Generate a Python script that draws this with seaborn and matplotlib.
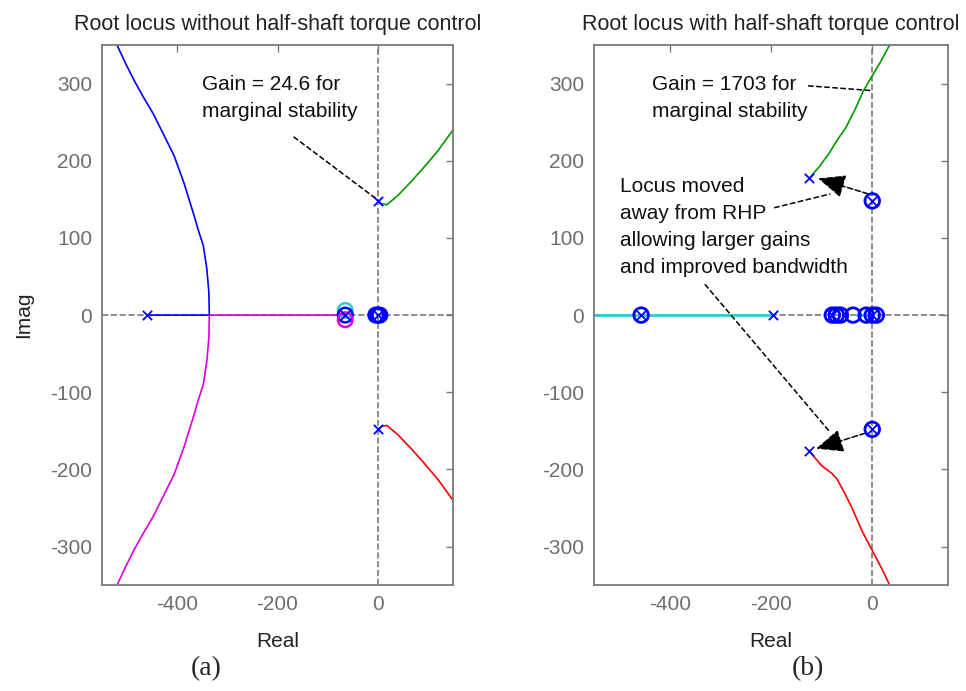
import matplotlib
matplotlib.use("Agg")
import matplotlib.pyplot as plt
import seaborn as sns
import numpy as np
import pandas as pd

# ---- left: without half-shaft torque control ----
a_blue_x = [-460, -336, -337, -341, -348, -358, -366, -386, -406, -428, -448, -468, -486, -503, -518, -524]
a_blue_y = [0, 0, 30, 60, 90, 110, 128, 170, 206, 235, 261, 283, 304, 326, 347, 355]
a_mag_x = [-65, -336, -337, -341, -348, -358, -366, -386, -406, -428, -448, -468, -486, -503, -518, -524]
a_mag_y = [0, 0, -30, -60, -90, -110, -128, -170, -206, -235, -261, -283, -304, -326, -347, -355]
a_green_x = [0, 8, 18, 40, 65, 90, 120, 150, 155]
a_green_y = [148, 144, 143, 155, 172, 190, 213, 240, 244]
a_red_x = [0, 8, 18, 40, 65, 90, 120, 150, 155]
a_red_y = [-148, -144, -143, -155, -172, -190, -213, -240, -244]
a_pole_x = [-460, 0, 0, -65, 0]
a_pole_y = [0, 148, -148, 0, 0]
a_zero_x = [-65, -65, -65, -4, 0, 4]
a_zero_y = [6, 0, -6, 0, 0, 0]
a_zero_c = ["#33cccc", "blue", "#dd00dd", "blue", "blue", "blue"]

# ---- right: with half-shaft torque control ----
b_cyan_x = [-560, -196]
b_cyan_y = [0, 0]
b_cyan2_x = [-30, -5]
b_cyan2_y = [0, 0]
b_green_x = [-125, -105, -85, -68, -53, -35, -18, 0, 18, 36]
b_green_y = [177, 192, 210, 228, 242, 265, 290, 310, 330, 352]
b_red_x = [-125, -100, -80, -70, -55, -40, -20, 0, 20, 36]
b_red_y = [-176, -195, -205, -212, -230, -250, -280, -305, -330, -352]
b_pole_x = [-196, -125, -125, 0, 0, -79, 0, -457]
b_pole_y = [0, 177, -176, 148, -148, 0, 0, 0]
b_zero_x = [-457, 0, 0, -79, -71, -63, -38, -12, 0, 8]
b_zero_y = [0, 148, -148, 0, 0, 0, 0, 0, 0, 0]

xticks = [-400, -200, 0]
yticks = [-300, -200, -100, 0, 100, 200, 300]

sns.set_theme(style="white")
plt.rcParams["font.family"] = ["Liberation Sans", "DejaVu Sans"]
plt.rcParams["axes.unicode_minus"] = False

fig = plt.figure(figsize=(9.66, 6.91), dpi=100)
ax1 = fig.add_axes([0.1056, 0.153, 0.3634, 0.782])
ax2 = fig.add_axes([0.615, 0.153, 0.3665, 0.782])

grey = "#7a7a7a"
tickc = "#6e6e6e"


def locus(ax, xs, ys, color, lw=1.2):
    df = pd.DataFrame({"x": xs, "y": ys})
    sns.lineplot(data=df, x="x", y="y", sort=False, color=color, lw=lw, ax=ax)


def style(ax, title, ylabel):
    ax.axvline(0, color=grey, ls="--", lw=1.2, zorder=0)
    ax.axhline(0, color=grey, ls="--", lw=1.2, zorder=0)
    ax.set_xlim(-550, 150)
    ax.set_ylim(-350, 350)
    ax.set_xticks(xticks)
    ax.set_yticks(yticks)
    ax.tick_params(direction="in", top=True, right=True, length=5, width=1,
                   color=grey, labelcolor=tickc, labelsize=15, pad=7)
    for s in ax.spines.values():
        s.set_color(grey)
        s.set_linewidth(1.3)
    ax.set_title(title, fontsize=15.5, color="#222222", pad=11)
    ax.set_xlabel("Real", fontsize=15, color="#222222", labelpad=13)
    ax.set_ylabel(ylabel, fontsize=15, color="#222222", labelpad=12)


# left panel
locus(ax1, a_blue_x, a_blue_y, "blue")
locus(ax1, a_mag_x, a_mag_y, "#dd00dd")
locus(ax1, a_green_x, a_green_y, "#009900")
locus(ax1, a_red_x, a_red_y, "red")
sns.scatterplot(x=a_zero_x, y=a_zero_y, marker="o", s=110, facecolor="none",
                edgecolor=a_zero_c, linewidth=1.8, ax=ax1, zorder=4)
sns.scatterplot(x=a_pole_x, y=a_pole_y, marker="x", s=45, color="blue",
                linewidth=1.3, ax=ax1, zorder=5)
ax1.text(-350, 281, "Gain = 24.6 for\nmarginal stability", fontsize=15,
         va="center", ha="left", linespacing=1.5, color="#111111")
ax1.plot([-168, -4], [231, 151], color="black", ls="--", lw=1.1)
style(ax1, "Root locus without half-shaft torque control", "Imag")

# right panel
locus(ax2, b_cyan_x, b_cyan_y, "#33cccc", lw=2.0)
locus(ax2, b_cyan2_x, b_cyan2_y, "#33cccc", lw=2.0)
locus(ax2, b_green_x, b_green_y, "#009900")
locus(ax2, b_red_x, b_red_y, "red")
sns.scatterplot(x=b_zero_x, y=b_zero_y, marker="o", s=110, facecolor="none",
                edgecolor="blue", linewidth=2.0, ax=ax2, zorder=4)
sns.scatterplot(x=b_pole_x, y=b_pole_y, marker="x", s=45, color="blue",
                linewidth=1.3, ax=ax2, zorder=5)
ax2.text(-436, 281, "Gain = 1703 for\nmarginal stability", fontsize=15,
         va="center", ha="left", linespacing=1.5, color="#111111")
ax2.plot([-127, -4], [297, 291], color="black", ls="--", lw=1.1)
ax2.text(-499, 114, "Locus moved\naway from RHP\nallowing larger gains\nand improved bandwidth",
         fontsize=15, va="center", ha="left", linespacing=1.55, color="#111111")
ax2.plot([-194, -83], [139, 157], color="black", ls="--", lw=1.1)
ax2.plot([-331, -83], [40, -152], color="black", ls="--", lw=1.1)
for tip, tail in [((-107, 177), (-8, 157)), ((-111, -173), (-14, -153))]:
    ax2.annotate("", xy=tip, xytext=tail,
                 arrowprops=dict(arrowstyle="-|>,head_length=1.4,head_width=0.6",
                                 color="black", lw=1.1, ls="--", shrinkA=0, shrinkB=0))
style(ax2, "Root locus with half-shaft torque control", "")

fig.text(0.213, 0.033, "(a)", fontsize=20, family=["Liberation Serif", "DejaVu Serif"],
         ha="center", va="center")
fig.text(0.836, 0.033, "(b)", fontsize=20, family=["Liberation Serif", "DejaVu Serif"],
         ha="center", va="center")

fig.savefig("out.png", dpi=100)
